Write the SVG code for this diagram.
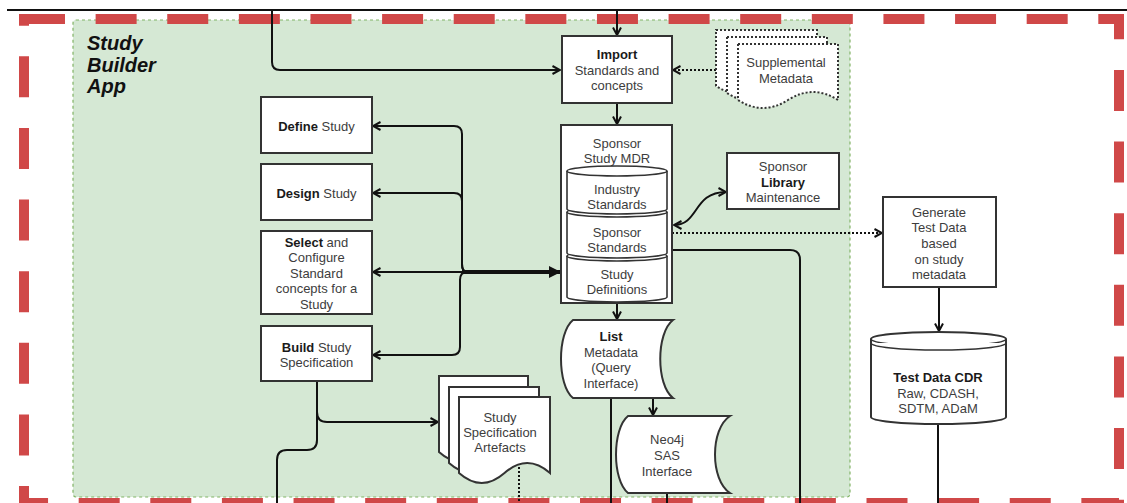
<svg xmlns="http://www.w3.org/2000/svg" width="1127" height="503" viewBox="0 0 1127 503">
  <style>
    text { font-family: "Liberation Sans", Arial, sans-serif; font-size: 13px; fill: #3d3d3d; text-anchor: middle; }
    .b { font-weight: bold; fill: #1a1a1a; }
    .box { fill: #ffffff; stroke: #333333; stroke-width: 2; }
    .cyl { fill: #ffffff; stroke: #333333; stroke-width: 1.6; }
    .page { fill: #ffffff; stroke: #333333; stroke-width: 2; }
    .dpage { fill: #ffffff; stroke: #333333; stroke-width: 2; stroke-dasharray: 2 2; }
    .edge { fill: none; stroke: #111111; stroke-width: 2; }
    .dot { fill: none; stroke: #111111; stroke-width: 2; stroke-dasharray: 2 2; }
    .arrow { marker-end: url(#open); }
  </style>
  <defs>
    <marker id="open" viewBox="0 0 10 10" refX="9" refY="5" markerWidth="10" markerHeight="10" markerUnits="userSpaceOnUse" orient="auto-start-reverse">
      <path d="M1.5,1 L9,5 L1.5,9" fill="none" stroke="#111111" stroke-width="2"/>
    </marker>
    <marker id="block" viewBox="0 0 12 12" refX="11" refY="6" markerWidth="12" markerHeight="12" markerUnits="userSpaceOnUse" orient="auto">
      <path d="M0,0 L12,6 L0,12 Z" fill="#111111"/>
    </marker>
  </defs>

  <!-- application boundary -->
  <g id="study-builder-app">
    <rect x="73" y="20" width="777" height="477" rx="3" fill="#d5e8d4" stroke="#82b366" stroke-width="1.2" stroke-dasharray="3 3"/>
    <text x="87" y="50" style="font-size:20px;font-weight:bold;font-style:italic;fill:#111;text-anchor:start">Study</text>
    <text x="87" y="71.5" style="font-size:20px;font-weight:bold;font-style:italic;fill:#111;text-anchor:start">Builder</text>
    <text x="87" y="93" style="font-size:20px;font-weight:bold;font-style:italic;fill:#111;text-anchor:start">App</text>
  </g>

  <!-- outer red boundary -->
  <g id="outer-boundary">
    <rect x="24" y="19" width="1095" height="484" fill="none" stroke="#d04848" stroke-width="10" stroke-dasharray="41 30.62"/>
    <rect x="19" y="14" width="10" height="11" fill="#d04848"/>
  </g>

  <!-- top rule -->
  <line x1="7" y1="10" x2="1127" y2="10" stroke="#111111" stroke-width="2"/>

  <!-- connectors -->
  <g id="connectors">
    <path class="edge arrow" d="M272,10 V62 Q272,70 280,70 H560"/>
    <path class="edge arrow" d="M617,10 V35"/>
    <path class="dot arrow" d="M716,70 H673"/>
    <path class="edge arrow" d="M617,103 V124"/>
    <!-- MDR to study activities -->
    <path class="edge arrow" d="M467,272 Q462,272 462,264 V134 Q462,126 454,126 H373"/>
    <path class="edge arrow" d="M467,272 Q462,272 462,264 V201 Q462,193 454,193 H373"/>
    <path class="edge arrow" d="M467,272 H373"/>
    <path class="edge arrow" d="M467,272 Q460,272 460,280 V347 Q460,355 452,355 H373"/>
    <path fill="none" stroke="#111111" stroke-width="4" marker-end="url(#block)" d="M462,272 H560"/>
    <!-- build outputs -->
    <path class="edge arrow" d="M317,381 V412 Q317,422 327,422 H438"/>
    <path class="edge" d="M317,381 V440 Q317,450 307,450 H287 Q277,450 277,460 V503"/>
    <path class="dot" d="M519,467 V503"/>
    <!-- MDR outputs -->
    <path class="edge arrow" d="M617,303 V319"/>
    <path class="edge arrow" d="M653,398 V415"/>
    <path class="edge" d="M611,398 V503"/>
    <path class="edge" d="M667,493 V503"/>
    <path class="edge" d="M672,250 H790 Q800,250 800,260 V503"/>
    <path class="edge" marker-start="url(#open)" marker-end="url(#open)" d="M674,225 C699,225 693,192 726,192"/>
    <path class="dot arrow" d="M672,233 H882"/>
    <path class="edge arrow" d="M939,287 V331"/>
    <path class="edge" d="M938,424 V503"/>
  </g>

  <g id="import">
    <rect class="box" x="562" y="36" width="110" height="67"/>
    <text class="b" x="617" y="59">Import</text>
    <text x="617" y="74.5">Standards and</text>
    <text x="617" y="90">concepts</text>
  </g>

  <g id="supplemental-metadata">
    <path class="dpage" d="M716,30 H817 V86 Q791.75,70 766.5,86 Q741.25,102 716,86 Z"/>
    <path class="dpage" d="M727,37 H827 V93 Q802,77 777,93 Q752,109 727,93 Z"/>
    <path class="dpage" d="M738,44 H838 V100 Q813,84 788,100 Q763,116 738,100 Z"/>
    <text x="786" y="67">Supplemental</text>
    <text x="786" y="83">Metadata</text>
  </g>

  <g id="define-study">
    <rect class="box" x="261" y="97" width="111" height="56"/>
    <text x="316.5" y="130.5"><tspan class="b">Define</tspan> Study</text>
  </g>

  <g id="design-study">
    <rect class="box" x="261" y="164" width="111" height="56"/>
    <text x="316.5" y="197.5"><tspan class="b">Design</tspan> Study</text>
  </g>

  <g id="select-configure">
    <rect class="box" x="261" y="231" width="111" height="83"/>
    <text x="316.5" y="246.5"><tspan class="b">Select</tspan> and</text>
    <text x="316.5" y="262">Configure</text>
    <text x="316.5" y="277.5">Standard</text>
    <text x="316.5" y="293">concepts for a</text>
    <text x="316.5" y="308.5">Study</text>
  </g>

  <g id="build-specification">
    <rect class="box" x="261" y="326" width="111" height="55"/>
    <text x="316.5" y="351.5"><tspan class="b">Build</tspan> Study</text>
    <text x="316.5" y="367">Specification</text>
  </g>

  <g id="specification-artefacts">
    <path class="page" d="M439,376 H528 V452 Q505.75,432 483.5,452 Q461.25,472 439,452 Z"/>
    <path class="page" d="M449,387 H539 V463 Q516.5,443 494,463 Q471.5,483 449,463 Z"/>
    <path class="page" d="M459,397 H550 V473 Q527.25,453 504.5,473 Q481.75,493 459,473 Z"/>
    <text x="500" y="421.5">Study</text>
    <text x="500" y="436.5">Specification</text>
    <text x="500" y="451.5">Artefacts</text>
  </g>

  <g id="sponsor-study-mdr">
    <rect class="box" x="561" y="125" width="111" height="178"/>
    <text x="617" y="147.5">Sponsor</text>
    <text x="617" y="162.5">Study MDR</text>
    <!-- stacked stores, lowest first -->
    <path class="cyl" d="M567,256 A50,5 0 0 1 667,256 V297 A50,5 0 0 1 567,297 Z"/>
    <path class="cyl" d="M567,256 A50,5 0 0 0 667,256"/>
    <path class="cyl" d="M567,212 A50,5 0 0 1 667,212 V253 A50,5 0 0 1 567,253 Z"/>
    <path class="cyl" d="M567,212 A50,5 0 0 0 667,212"/>
    <path class="cyl" d="M567,171 A50,5 0 0 1 667,171 V209 A50,5 0 0 1 567,209 Z"/>
    <path class="cyl" d="M567,171 A50,5 0 0 0 667,171"/>
    <text x="617" y="193.5">Industry</text>
    <text x="617" y="208.5">Standards</text>
    <text x="617" y="236.5">Sponsor</text>
    <text x="617" y="251.5">Standards</text>
    <text x="617" y="278.5">Study</text>
    <text x="617" y="293.5">Definitions</text>
  </g>

  <g id="library-maintenance">
    <rect class="box" x="727" y="153" width="112" height="56"/>
    <text x="783" y="170.5">Sponsor</text>
    <text class="b" x="783" y="186.5">Library</text>
    <text x="783" y="201.5">Maintenance</text>
  </g>

  <g id="list-metadata">
    <path class="box" d="M573,320 H673 C656,333 656,385 673,398 H573 C557,385 557,333 573,320 Z"/>
    <text class="b" x="611" y="340.5">List</text>
    <text x="611" y="356.5">Metadata</text>
    <text x="611" y="371.5">(Query</text>
    <text x="611" y="387.5">Interface)</text>
  </g>

  <g id="neo4j-sas">
    <path class="box" d="M628,416 H730 C710,429 710,480 730,493 H628 C612,480 612,429 628,416 Z"/>
    <text x="667" y="443.5">Neo4j</text>
    <text x="667" y="459.5">SAS</text>
    <text x="667" y="475.5">Interface</text>
  </g>

  <g id="generate-test-data">
    <rect class="box" x="883" y="197" width="113" height="90"/>
    <text x="939" y="216.5">Generate</text>
    <text x="939" y="231.5">Test Data</text>
    <text x="939" y="247.5">based</text>
    <text x="939" y="263.5">on study</text>
    <text x="939" y="278.5">metadata</text>
  </g>

  <g id="test-data-cdr">
    <path class="box" d="M871,339 A67.5,7 0 0 1 1006,339 V417 A67.5,7 0 0 1 871,417 Z"/>
    <path class="cyl" d="M871,339 A67.5,7 0 0 0 1006,339"/>
    <path class="cyl" d="M871,343 A67.5,7 0 0 0 1006,343"/>
    <text class="b" x="938" y="381.5">Test Data CDR</text>
    <text x="938" y="397.5">Raw, CDASH,</text>
    <text x="938" y="412.5">SDTM, ADaM</text>
  </g>
</svg>
